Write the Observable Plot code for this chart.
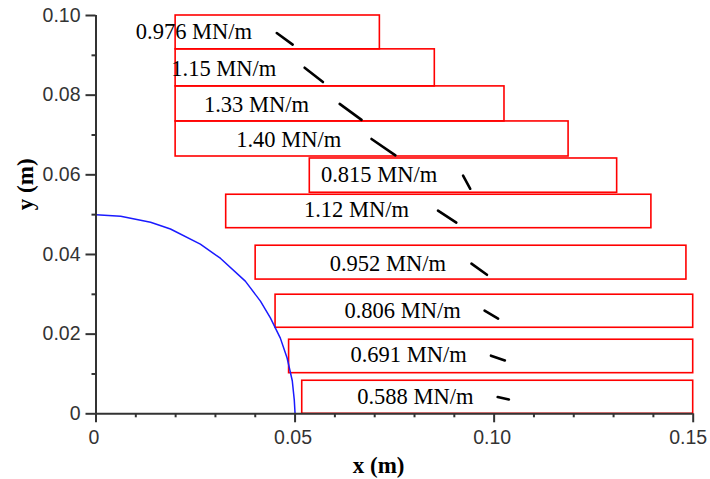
<!DOCTYPE html>
<html>
<head>
<meta charset="utf-8">
<script src="https://cdn.jsdelivr.net/npm/d3@7"></script>
<script src="https://cdn.jsdelivr.net/npm/@observablehq/plot@0.6"></script>
<style>
  html, body { margin: 0; padding: 0; background: #fff; }
  #chart svg { display: block; }
</style>
</head>
<body>
<div id="chart"></div>
<script>
// ---- data ----
const labels = ["0.976 MN/m", "1.15 MN/m", "1.33 MN/m", "1.40 MN/m", "0.815 MN/m",
                "1.12 MN/m", "0.952 MN/m", "0.806 MN/m", "0.691 MN/m", "0.588 MN/m"];
const rectX1 = [0.0200, 0.0200, 0.0200, 0.0200, 0.0537, 0.0327, 0.0401, 0.0451, 0.0485, 0.0518];
const rectX2 = [0.0713, 0.0851, 0.1026, 0.1187, 0.1309, 0.1395, 0.1483, 0.1500, 0.1500, 0.1500];
const rectYTop = [0.1000, 0.0915, 0.0822, 0.0734, 0.0641, 0.0550, 0.0422, 0.0299, 0.0186, 0.0083];
const rectYBot = [0.0915, 0.0822, 0.0734, 0.0646, 0.0555, 0.0466, 0.0337, 0.0216, 0.0102, 0.0000];
const labelX = [0.0246, 0.0321, 0.0403, 0.0484, 0.0711, 0.0654, 0.0733, 0.0770, 0.0785, 0.0802];
const labelY = [0.0958, 0.0867, 0.0776, 0.0687, 0.0601, 0.0512, 0.0377, 0.0259, 0.0147, 0.0042];
const segX1 = [0.0454, 0.0524, 0.0612, 0.0692, 0.0922, 0.0859, 0.0943, 0.0976, 0.0992, 0.1009];
const segY1 = [0.0956, 0.0869, 0.0778, 0.0690, 0.0598, 0.0510, 0.0377, 0.0259, 0.0146, 0.0042];
const segX2 = [0.0494, 0.0570, 0.0667, 0.0752, 0.0940, 0.0905, 0.0982, 0.1010, 0.1027, 0.1037];
const segY2 = [0.0927, 0.0833, 0.0738, 0.0649, 0.0565, 0.0480, 0.0349, 0.0239, 0.0134, 0.0036];
const arcX = [0, 0.0062, 0.0137, 0.0187, 0.0262, 0.0313, 0.0375, 0.0413, 0.0438, 0.0463, 0.0480, 0.0493, 0.0498, 0.0500];
const arcY = [0.0500, 0.0496, 0.0481, 0.0464, 0.0426, 0.0390, 0.0333, 0.0283, 0.0241, 0.0190, 0.0140, 0.0083, 0.0035, 0];
const xMajor = [0, 0.05, 0.10, 0.15];
const xLabelsA = [0, 0.05, 0.10];
const xLabelsB = [0.15];
const xMinor = [0.01, 0.02, 0.03, 0.04, 0.06, 0.07, 0.08, 0.09, 0.11, 0.12, 0.13, 0.14];
const yMajor = [0, 0.02, 0.04, 0.06, 0.08, 0.10];
const yMinor = [0.01, 0.03, 0.05, 0.07, 0.09];

// ---- tables built from the arrays ----
const boxes = labels.map((l, i) => ({x1: rectX1[i], x2: rectX2[i], y1: rectYBot[i], y2: rectYTop[i]}));
const texts = labels.map((l, i) => ({label: l, x: labelX[i], y: labelY[i]}));
const segs = labels.map((l, i) => ({x1: segX1[i], y1: segY1[i], x2: segX2[i], y2: segY2[i]}));
const arc = arcX.map((x, i) => ({x, y: arcY[i]}));

const fmt = d => d === 0 ? "0" : d.toFixed(2);
const axisColor = "#333";
const tickFont = "Liberation Sans, Arial, sans-serif";
const serif = "Liberation Serif, Times New Roman, serif";

const chart = Plot.plot({
  width: 710,
  height: 479,
  marginLeft: 95.5,
  marginRight: 17.3,
  marginTop: 15,
  marginBottom: 65.7,
  style: {background: "#fff", fontFamily: tickFont},
  x: {domain: [0, 0.15]},
  y: {domain: [0, 0.10]},
  marks: [
    // boxes
    Plot.rect(boxes, {x1: "x1", x2: "x2", y1: "y1", y2: "y2", fill: "none", stroke: "#ff0000", strokeWidth: 1.6}),
    // quarter circle
    Plot.line(arc, {x: "x", y: "y", stroke: "#1a1aff", strokeWidth: 1.5}),
    // direction segments
    Plot.link(segs, {x1: "x1", y1: "y1", x2: "x2", y2: "y2", stroke: "#000", strokeWidth: 2.6, strokeLinecap: "round"}),
    // labels
    Plot.text(texts, {x: "x", y: "y", text: "label", fontFamily: serif,
      fontSize: 22.5, fill: "#000", textAnchor: "middle", lineAnchor: "middle"}),
    // axes lines
    Plot.ruleY([0], {x1: 0, x2: 0.15, stroke: axisColor, strokeWidth: 2}),
    Plot.ruleX([0], {y1: 0, y2: 0.10, stroke: axisColor, strokeWidth: 2}),
    // x ticks
    Plot.axisX(xMinor, {tickSize: 4, tickFormat: () => "", stroke: axisColor, strokeWidth: 2, label: null}),
    Plot.axisX(xMajor, {tickSize: 9, tickFormat: () => "", stroke: axisColor, strokeWidth: 2, label: null}),
    // x tick labels
    Plot.axisX(xLabelsA, {tickSize: 0, tickPadding: 16, tickFormat: fmt, stroke: "none",
      fill: axisColor, fontSize: 19.5, fontFamily: tickFont, dx: -2, label: null}),
    Plot.axisX(xLabelsB, {tickSize: 0, tickPadding: 16, tickFormat: fmt, stroke: "none",
      fill: axisColor, fontSize: 19.5, fontFamily: tickFont, dx: -5, label: null}),
    // y ticks + labels
    Plot.axisY(yMinor, {tickSize: 4, tickFormat: () => "", stroke: axisColor, strokeWidth: 2, label: null}),
    Plot.axisY(yMajor, {tickSize: 10, tickPadding: 5.5, tickFormat: fmt, stroke: axisColor, strokeWidth: 2,
      fill: axisColor, fontSize: 19.5, fontFamily: tickFont, label: null}),
    // axis titles
    Plot.text(["x (m)"], {frameAnchor: "bottom", dx: -16, dy: 52, fontFamily: serif,
      fontWeight: "bold", fontSize: 23, fill: "#000", lineAnchor: "middle"}),
    Plot.text(["y (m)"], {frameAnchor: "left", dx: -70.5, dy: -4.5, rotate: -90, fontFamily: serif,
      fontWeight: "bold", fontSize: 23, fill: "#000", lineAnchor: "middle"})
  ]
});
document.getElementById("chart").appendChild(chart);
</script>
</body>
</html>
